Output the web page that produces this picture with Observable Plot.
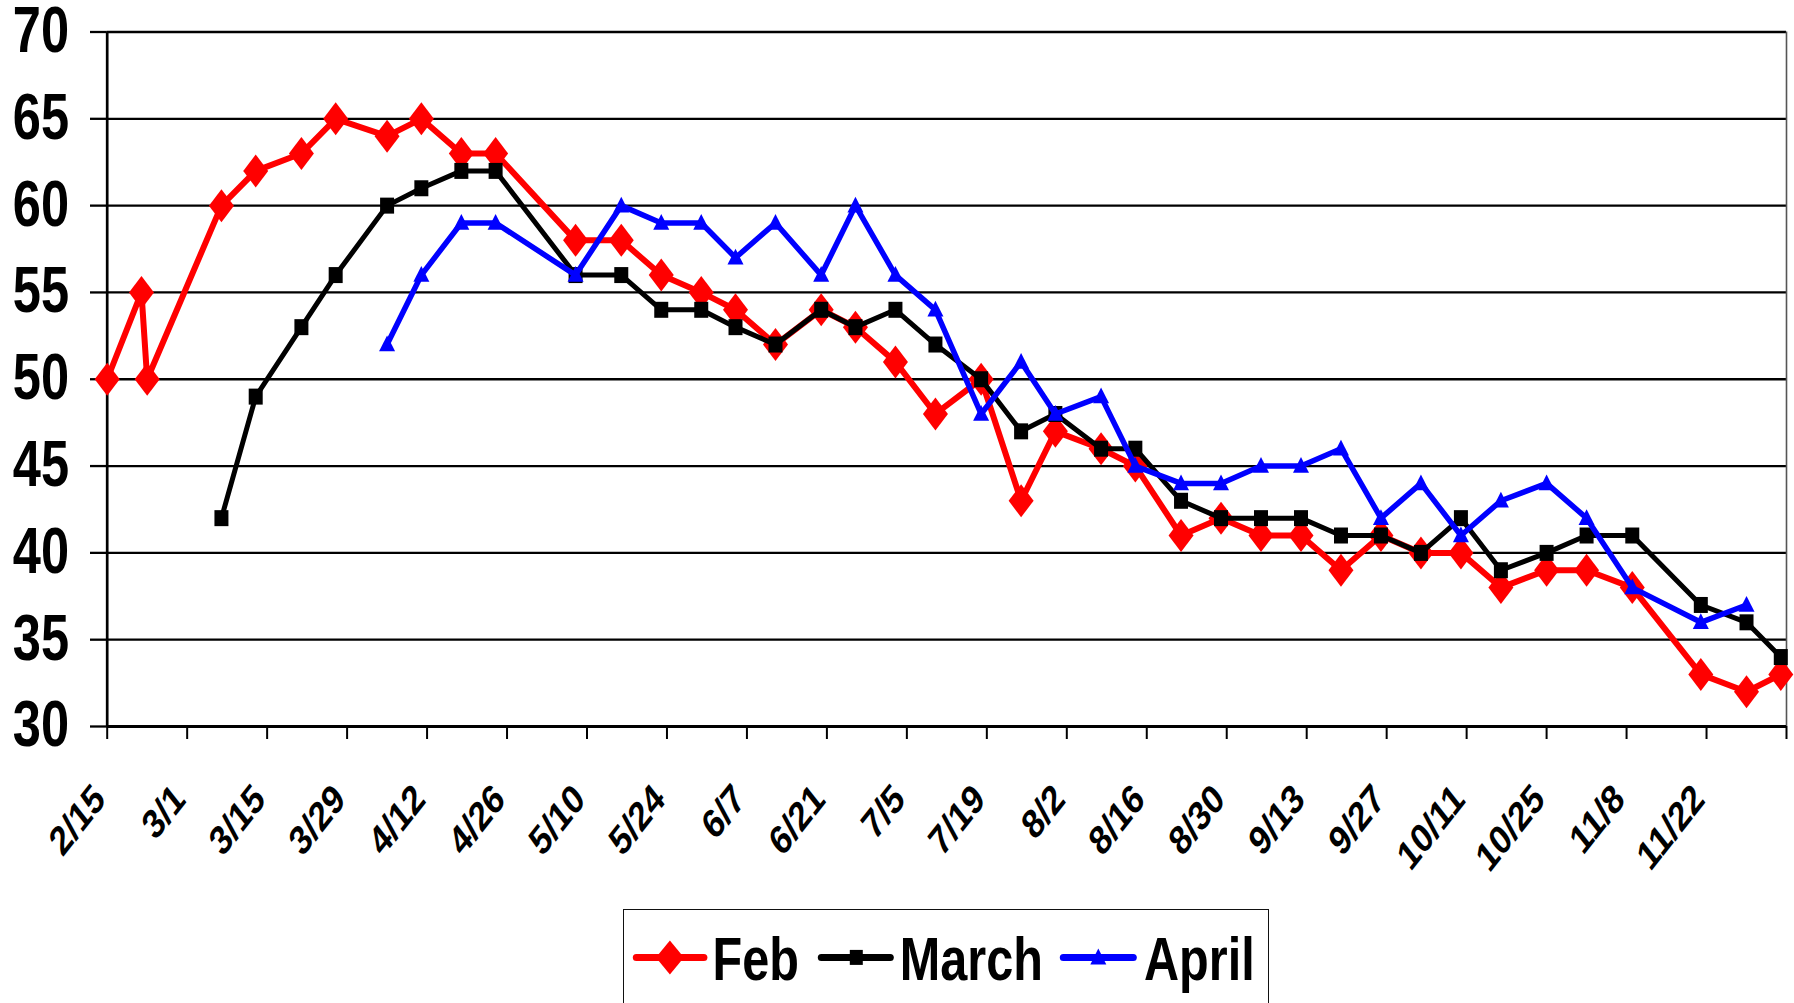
<!DOCTYPE html>
<html>
<head>
<meta charset="utf-8">
<script src="https://cdn.jsdelivr.net/npm/d3@7"></script>
<script src="https://cdn.jsdelivr.net/npm/@observablehq/plot@0.6"></script>
<style>
  body { margin: 0; background: #fff; font-family: "Liberation Sans", Arial, sans-serif; }
  #wrap { position: relative; width: 1794px; height: 1003px; overflow: hidden; background: #fff; }
  #wrap > svg { position: absolute; left: 0; top: 0; }
  #legend { position: absolute; left: 622.7px; top: 909.3px; width: 646px; height: 110px;
            border: 1.8px solid #111; box-sizing: border-box; background: #fff; }
  #legend svg { position: absolute; left: -1.8px; top: -1.8px; overflow: visible; }
</style>
</head>
<body>
<div id="wrap"></div>
<script>
// ---- data (dates as m/d) ----
const febDates = ["2/15","2/21","2/22","3/7","3/13","3/21","3/27","4/5","4/11","4/18","4/24","5/8","5/16","5/23","5/30","6/5","6/12","6/20","6/26","7/3","7/10","7/18","7/25","7/31","8/8","8/14","8/22","8/29","9/5","9/12","9/19","9/26","10/3","10/10","10/17","10/25","11/1","11/9","11/21","11/29","12/5"];
const febValues = [50,55,50,60,62,63,65,64,65,63,63,58,58,56,55,54,52,54,53,51,48,50,43,47,46,45,41,42,41,41,39,41,40,40,38,39,39,38,33,32,33];

const marchDates = ["3/7","3/13","3/21","3/27","4/5","4/11","4/18","4/24","5/8","5/16","5/23","5/30","6/5","6/12","6/20","6/26","7/3","7/10","7/18","7/25","7/31","8/8","8/14","8/22","8/29","9/5","9/12","9/19","9/26","10/3","10/10","10/17","10/25","11/1","11/9","11/21","11/29","12/5"];
const marchValues = [42,49,53,56,60,61,62,62,56,56,54,54,53,52,54,53,54,52,50,47,48,46,46,43,42,42,42,41,41,40,42,39,40,41,41,37,36,34];

const aprilDates = ["4/5","4/11","4/18","4/24","5/8","5/16","5/23","5/30","6/5","6/12","6/20","6/26","7/3","7/10","7/18","7/25","7/31","8/8","8/14","8/22","8/29","9/5","9/12","9/19","9/26","10/3","10/10","10/17","10/25","11/1","11/9","11/21","11/29"];
const aprilValues = [52,56,59,59,56,60,59,59,57,59,56,60,56,54,48,51,48,49,45,44,44,45,45,46,42,44,41,43,44,42,38,36,37];

const tickLabels = ["2/15","3/1","3/15","3/29","4/12","4/26","5/10","5/24","6/7","6/21","7/5","7/19","8/2","8/16","8/30","9/13","9/27","10/11","10/25","11/8","11/22"];
const axisEnd = "12/6";
const yTicks = [30,35,40,45,50,55,60,65,70];
const seriesNames = ["Feb","March","April"];
const seriesColors = ["#ff0000","#000000","#0000ff"];

// ---- helpers ----
const toDate = s => { const [m, d] = s.split("/").map(Number); return new Date(Date.UTC(2001, m - 1, d)); };
const rows = (dates, values) => dates.map((d, i) => ({date: toDate(d), value: values[i]}));
const feb = rows(febDates, febValues);
const march = rows(marchDates, marchValues);
const april = rows(aprilDates, aprilValues);
const tickDates = tickLabels.map(toDate).concat([toDate(axisEnd)]);
const labelOf = new Map(tickLabels.map(s => [+toDate(s), s]));

const diamondSym = {draw(ctx, size) { const s = Math.sqrt(size / Math.PI); const w = 1.25 * s, h = 1.65 * s;
  ctx.moveTo(0, -h); ctx.lineTo(w, 0); ctx.lineTo(0, h); ctx.lineTo(-w, 0); ctx.closePath(); }};
const squareSym = {draw(ctx, size) { const s = Math.sqrt(size / Math.PI); const w = 0.7 * s, h = 0.8 * s;
  ctx.rect(-w, -h, 2 * w, 2 * h); }};
const triSym = {draw(ctx, size) { const s = Math.sqrt(size / Math.PI); const w = 0.8 * s, h = 0.9 * s;
  ctx.moveTo(0, -h); ctx.lineTo(w, 0.75 * h); ctx.lineTo(-w, 0.75 * h); ctx.closePath(); }};

const lineOpts = (color, w) => ({x: "date", y: "value", stroke: color, strokeWidth: w, strokeLinejoin: "round", strokeLinecap: "round"});

const chart = Plot.plot({
  width: 1794,
  height: 905,
  marginLeft: 106.7,
  marginRight: 8,
  marginTop: 31.5,
  marginBottom: 179,
  style: {fontFamily: "'Liberation Sans', Arial, sans-serif", background: "#fff", color: "#000", overflow: "visible"},
  x: {type: "utc", domain: [toDate("2/15"), toDate(axisEnd)]},
  y: {domain: [30, 70]},
  marks: [
    Plot.ruleY(yTicks, {stroke: "#000", strokeWidth: 2.3}),
    Plot.ruleX([toDate(axisEnd)], {stroke: "#555", strokeWidth: 1.6}),
    Plot.ruleX([toDate("2/15")], {stroke: "#000", strokeWidth: 2.7}),
    Plot.ruleY([30], {stroke: "#000", strokeWidth: 3}),
    Plot.axisY({ticks: yTicks, tickSize: 16.7, tickPadding: 21, fontSize: 64, fontWeight: "bold", strokeWidth: 2.3,
                textAnchor: "end", tickFormat: d => String(d), label: null}),
    Plot.axisX({ticks: tickDates, tickSize: 13, tickPadding: 20, textAnchor: "end", lineAnchor: "middle",
                fontSize: 41, fontWeight: "bold", strokeWidth: 2, tickFormat: d => labelOf.get(+d) ?? "", label: null}),
    Plot.line(feb, lineOpts(seriesColors[0], 6)),
    Plot.dot(feb, {x: "date", y: "value", symbol: diamondSym, r: 10, fill: seriesColors[0], stroke: "none"}),
    Plot.line(march, lineOpts(seriesColors[1], 5)),
    Plot.dot(march, {x: "date", y: "value", symbol: squareSym, r: 10, fill: seriesColors[1], stroke: "none"}),
    Plot.line(april, lineOpts(seriesColors[2], 5.5)),
    Plot.dot(april, {x: "date", y: "value", symbol: triSym, r: 10, fill: seriesColors[2], stroke: "none"})
  ]
});

const wrap = document.getElementById("wrap");
wrap.appendChild(chart);

// ---- condense / rotate tick labels like the original picture ----
const SX = 0.79;
const xs = chart.scale("x"), ys = chart.scale("y");
const frameBottom = ys.apply(30);
chart.querySelectorAll('g[aria-label="y-axis tick label"] text').forEach(t => {
  const v = +t.textContent;
  const g = t.parentNode.getCTM();
  const px = xs.apply(toDate("2/15")) - 16.7 - 21, py = ys.apply(v);
  t.removeAttribute("x");
  t.setAttribute("y", "0.32em");
  t.setAttribute("text-anchor", "end");
  t.setAttribute("transform", `translate(${px - g.e},${py - g.f}) scale(${SX},1)`);
});
chart.querySelectorAll('g[aria-label="x-axis tick label"] text').forEach(t => {
  const label = t.textContent;
  if (!label) return;
  const g = t.parentNode.getCTM();
  const px = xs.apply(toDate(label)) - 7, py = frameBottom + 66;
  t.removeAttribute("x");
  t.setAttribute("y", "0.32em");
  t.setAttribute("text-anchor", "end");
  t.setAttribute("transform", `translate(${px - g.e},${py - g.f}) scale(${SX},1) rotate(-45)`);
});

// ---- legend ----
const legend = document.createElement("div");
legend.id = "legend";
wrap.appendChild(legend);
const lsvg = d3.select(legend).append("svg").attr("width", 646).attr("height", 110);
const items = [
  {x0: 14.3, x1: 81.9, cx: 47.9, tx: 90.6, sym: {draw(ctx) { ctx.moveTo(0,-17); ctx.lineTo(14,0); ctx.lineTo(0,17); ctx.lineTo(-14,0); ctx.closePath(); }}},
  {x0: 199.3, x1: 268.3, cx: 234.3, tx: 277.8, sym: {draw(ctx) { ctx.rect(-6.5,-7.5,13,15); }}},
  {x0: 441.3, x1: 511.3, cx: 476.3, tx: 522, sym: {draw(ctx) { ctx.moveTo(0,-9); ctx.lineTo(8,7); ctx.lineTo(-8,7); ctx.closePath(); }}}
];
const ly = 48.4;
items.forEach((it, i) => {
  const g = lsvg.append("g");
  g.append("line").attr("x1", it.x0).attr("x2", it.x1).attr("y1", ly).attr("y2", ly)
    .attr("stroke", seriesColors[i]).attr("stroke-width", 7).attr("stroke-linecap", "round");
  g.append("path").attr("d", d3.symbol(it.sym)()).attr("transform", `translate(${it.cx},${ly})`).attr("fill", seriesColors[i]);
  g.append("text").attr("transform", `translate(${it.tx},71.4) scale(${SX},1)`)
    .attr("font-size", 61.5).attr("font-weight", "bold").attr("fill", "#000")
    .attr("font-family", "'Liberation Sans', Arial, sans-serif").text(seriesNames[i]);
});
</script>
</body>
</html>
